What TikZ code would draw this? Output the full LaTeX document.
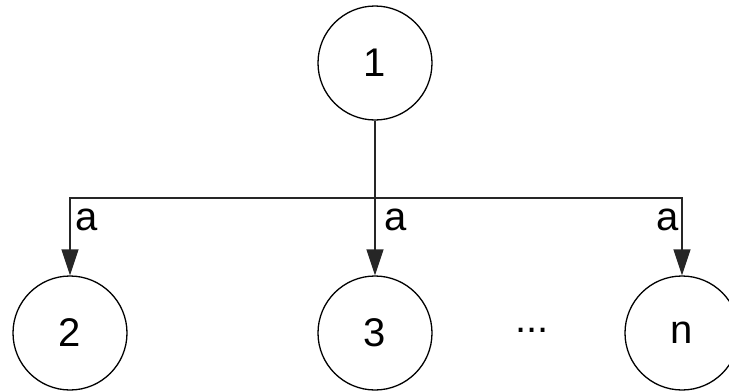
\documentclass[tikz,border=0pt]{standalone}
\usepackage{fontspec}
\setmainfont{Liberation Sans}
\usetikzlibrary{arrows.meta}
\begin{document}
\begin{tikzpicture}[x=1pt,y=-1pt,
  state/.style={draw,circle,line width=1.3pt,minimum size=114pt,inner sep=0pt,font=\fontsize{40}{42}\selectfont},
  lbl/.style={font=\fontsize{40}{42}\selectfont,inner sep=0pt},
  edge/.style={line width=1.5pt,draw=black!85},
  arr/.style={edge,-{Triangle[length=26pt,width=17pt]}}]
\useasboundingbox (0,0) rectangle (729,391);
\node[state] (n1) at (375,63) {1};
\node[state] (n2) at (70,333) {2};
\node[state] (n3) at (375,333) {3};
\node[state] (nn) at (682,333) {n};
\node[lbl] (dots) at (532,330) {...};
\coordinate (j) at (375,198);
\draw[edge] (n1) -- (j);
\draw[arr] (j) -| (n2.north);
\draw[arr] (j) -- (n3.north);
\draw[arr] (j) -| (nn.north);
\node[lbl] (a2) at (87,220) {a};
\node[lbl] (a3) at (396,220) {a};
\node[lbl] (an) at (668,220) {a};
\end{tikzpicture}
\end{document}
